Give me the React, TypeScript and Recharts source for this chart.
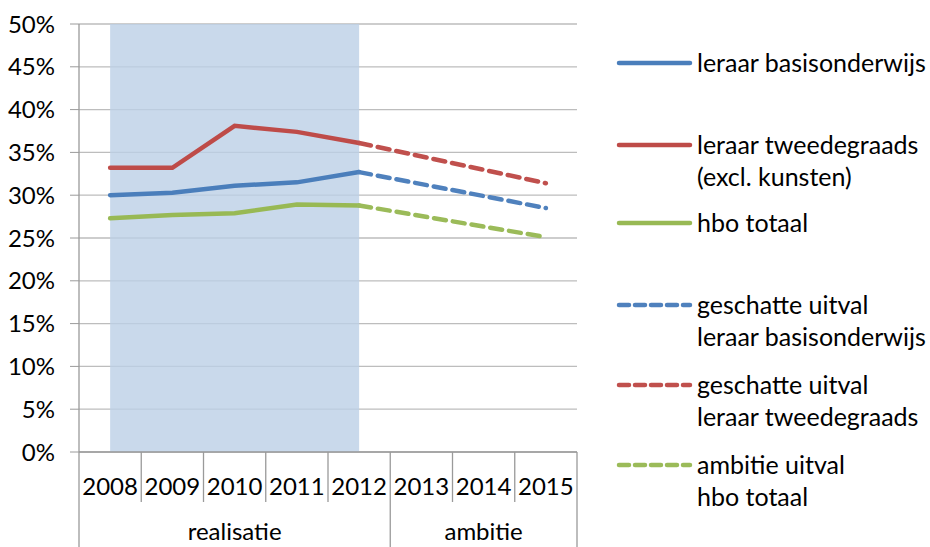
import { CartesianGrid, Line, LineChart, ReferenceArea, XAxis, YAxis } from "recharts";

const years = ["2008", "2009", "2010", "2011", "2012", "2013", "2014", "2015"];
const basis = [30.0, 30.3, 31.1, 31.5, 32.7, null, null, null];
const tweedegraads = [33.2, 33.2, 38.1, 37.4, 36.1, null, null, null];
const hbo = [27.3, 27.7, 27.9, 28.9, 28.8, null, null, null];
const basisEst = [null, null, null, null, 32.7, null, null, 28.5];
const tweedegraadsEst = [null, null, null, null, 36.1, null, null, 31.4];
const hboAmbitie = [null, null, null, null, 28.8, null, null, 25.1];
const yTicks = [0, 5, 10, 15, 20, 25, 30, 35, 40, 45, 50];
const groups = [
  { label: "realisatie", at: 2 },
  { label: "ambitie", at: 6 },
];

const series = [
  { key: "basis", lines: ["leraar basisonderwijs"], color: "#4a7ebb", dash: false, values: basis },
  { key: "tweede", lines: ["leraar tweedegraads", "(excl. kunsten)"], color: "#be4b48", dash: false, values: tweedegraads },
  { key: "hbo", lines: ["hbo totaal"], color: "#98b954", dash: false, values: hbo },
  { key: "basisEst", lines: ["geschatte uitval", "leraar basisonderwijs"], color: "#4f81bd", dash: true, values: basisEst },
  { key: "tweedeEst", lines: ["geschatte uitval", "leraar tweedegraads"], color: "#c0504d", dash: true, values: tweedegraadsEst },
  { key: "hboAmb", lines: ["ambitie uitval", "hbo totaal"], color: "#9bbb59", dash: true, values: hboAmbitie },
];

const data = years.map((year, i) => {
  const row: Record<string, string | number | null> = { year };
  series.forEach((s) => (row[s.key] = s.values[i]));
  return row;
});

const W = 930;
const H = 547;
const LEFT = 79;
const RIGHT = 577;
const TOP = 24;
const AXIS_Y = 452;
const BAND = (RIGHT - LEFT) / years.length;
const FONT = "Lato, 'Open Sans', sans-serif";
const FS = 24;
const DASH = "12 7";

function YearTick(props: any) {
  const { x, y, index } = props;
  const i = index ?? props.payload?.index ?? 0;
  const left = x - BAND / 2;
  const long = i === 0 || i === 5;
  const group = groups.find((g) => g.at === i);
  return (
    <g>
      <line x1={left} x2={left} y1={y} y2={long ? H : y + 50} stroke="#9a9a9a" strokeWidth={1.3} />
      {i === years.length - 1 && (
        <line x1={x + BAND / 2} x2={x + BAND / 2} y1={y} y2={H} stroke="#9a9a9a" strokeWidth={1.3} />
      )}
      <text x={x} y={y + 43} textAnchor="middle" fontFamily={FONT} fontSize={FS} fill="#000">
        {props.payload.value}
      </text>
      {group && (
        <text x={x} y={y + 88} textAnchor="middle" fontFamily={FONT} fontSize={FS} fill="#000">
          {group.label}
        </text>
      )}
    </g>
  );
}

const legendY = [63, 145, 223, 305, 385, 465];

export default function App() {
  return (
    <div style={{ position: "absolute", left: 0, top: 0, width: W, height: H, background: "#fff" }}>
      <LineChart
        width={W}
        height={H}
        data={data}
        margin={{ top: TOP, right: W - RIGHT, left: 0, bottom: 0 }}
      >
        <CartesianGrid vertical={false} stroke="#bdbdbd" strokeWidth={1.3} />
        <ReferenceArea x1="2008" x2="2012" fill="#bcd0e6" fillOpacity={0.8} stroke="none" />
        <XAxis
          dataKey="year"
          scale="point"
          padding={{ left: BAND / 2, right: BAND / 2 }}
          height={H - AXIS_Y}
          tickLine={false}
          tickSize={0}
          tickMargin={0}
          axisLine={{ stroke: "#9a9a9a", strokeWidth: 1.3 }}
          tick={<YearTick />}
          interval={0}
        />
        <YAxis
          width={LEFT}
          domain={[0, 50]}
          ticks={yTicks}
          interval={0}
          tickFormatter={(v) => `${v}%`}
          tickSize={9}
          tickMargin={15}
          tickLine={{ stroke: "#9a9a9a" }}
          axisLine={{ stroke: "#9a9a9a", strokeWidth: 1.3 }}
          tick={{ fontFamily: FONT, fontSize: FS, fill: "#000" }}
        />
        {series.map((s) => (
          <Line
            key={s.key}
            dataKey={s.key}
            stroke={s.color}
            strokeWidth={4.5}
            strokeDasharray={s.dash ? DASH : undefined}
            strokeLinecap="round"
            dot={false}
            activeDot={false}
            connectNulls={s.dash}
            isAnimationActive={false}
          />
        ))}
      </LineChart>
      <svg width={W} height={H} style={{ position: "absolute", left: 0, top: 0, pointerEvents: "none" }}>
        {series.map((s, i) => (
          <g key={s.key}>
            <line
              x1={619}
              x2={690}
              y1={legendY[i]}
              y2={legendY[i]}
              stroke={s.color}
              strokeWidth={4.5}
              strokeLinecap="round"
              strokeDasharray={s.dash ? "10 6" : undefined}
            />
            {s.lines.map((t, j) => (
              <text
                key={j}
                x={697}
                y={legendY[i] + j * 32}
                dy="0.35em"
                fontFamily={FONT}
                fontSize={25}
                fill="#000"
              >
                {t}
              </text>
            ))}
          </g>
        ))}
      </svg>
    </div>
  );
}
